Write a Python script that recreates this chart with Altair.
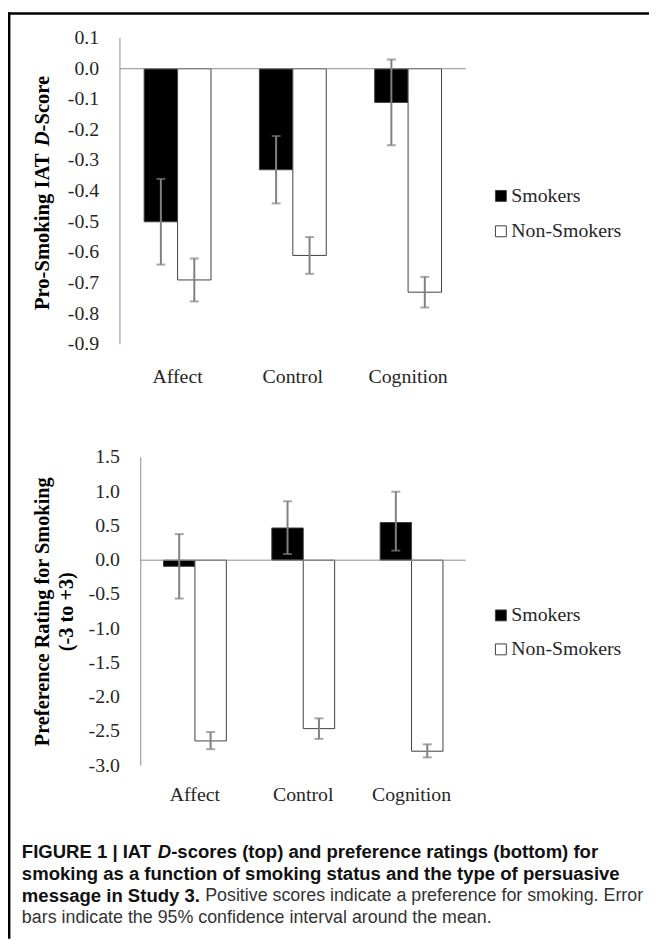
import altair as alt
import pandas as pd

# ---------------- data ----------------
categories = ["Affect", "Control", "Cognition"]
groups = ["Smokers", "Non-Smokers"]

iat_smokers = [-0.50, -0.33, -0.11]
iat_smokers_lo = [-0.64, -0.44, -0.25]
iat_smokers_hi = [-0.36, -0.22, 0.03]
iat_nonsmokers = [-0.69, -0.61, -0.73]
iat_nonsmokers_lo = [-0.76, -0.67, -0.78]
iat_nonsmokers_hi = [-0.62, -0.55, -0.68]

pref_smokers = [-0.09, 0.47, 0.55]
pref_smokers_lo = [-0.56, 0.09, 0.14]
pref_smokers_hi = [0.38, 0.86, 1.00]
pref_nonsmokers = [-2.64, -2.46, -2.79]
pref_nonsmokers_lo = [-2.76, -2.61, -2.88]
pref_nonsmokers_hi = [-2.51, -2.31, -2.69]

iat_ticks = [0.1, 0.0, -0.1, -0.2, -0.3, -0.4, -0.5, -0.6, -0.7, -0.8, -0.9]
pref_ticks = [1.5, 1.0, 0.5, 0.0, -0.5, -1.0, -1.5, -2.0, -2.5, -3.0]

top_title = ["Pro-Smoking IAT ", "D", "-Score"]
bottom_title = ["Preference Rating for Smoking", "(-3 to +3)"]
caption_line1 = ["FIGURE 1 | IAT ", "D", "-scores (top) and preference ratings (bottom) for"]
caption_line2 = "smoking as a function of smoking status and the type of persuasive"
caption_line3 = ["message in Study 3.", "Positive scores indicate a preference for smoking. Error"]
caption_line4 = "bars indicate the 95% confidence interval around the mean."

# ---------------- style ----------------
W, H = 647, 935
SERIF = "Liberation Serif"
SANS = "Liberation Sans"
GRAY = "#8c8c8c"
ERR = "#808080"
LBL = "#262626"
MINUS = "\u2212"
FILLS = ["#000000", "#ffffff"]

one = pd.DataFrame({"k": [0]})


def make_df(v1, lo1, hi1, v2, lo2, hi2):
    rows = []
    for i, c in enumerate(categories):
        rows.append(dict(cat=c, group=groups[0], value=v1[i], lo=lo1[i], hi=hi1[i]))
        rows.append(dict(cat=c, group=groups[1], value=v2[i], lo=lo2[i], hi=hi2[i]))
    return pd.DataFrame(rows)


def legend_entries(y_rows):
    out = []
    for g, fill, yy in zip(groups, FILLS, y_rows):
        out.append(alt.Chart(one).mark_square(
            size=121, fill=fill, stroke="#404040", strokeWidth=1, opacity=1
        ).encode(x=alt.value(497.5), y=alt.value(yy)))
        out.append(alt.Chart(one).mark_text(
            text=g, font=SERIF, fontSize=20, color=LBL, align="left", baseline="middle"
        ).encode(x=alt.value(508), y=alt.value(yy)))
    return out


def panel(df, xrange, ydomain, yrange, ticks, label_y, legend_rows):
    xs = alt.Scale(domain=categories, range=xrange, paddingInner=0.42, paddingOuter=0.21)
    X = alt.X("cat:N", scale=xs, axis=None)
    XO = alt.XOffset("group:N", scale=alt.Scale(domain=groups))
    ys = alt.Scale(domain=ydomain, range=yrange, nice=False, zero=False)
    base = alt.Chart(df)
    bars = base.mark_bar(stroke="#404040", strokeWidth=1).encode(
        x=X, xOffset=XO,
        y=alt.Y("value:Q", scale=ys, axis=None),
        y2=alt.datum(0),
        color=alt.Color("group:N", scale=alt.Scale(domain=groups, range=FILLS), legend=None),
    )
    # y axis line and tick labels, placed through the y scale
    axis_line = alt.Chart(one).mark_rule(color=GRAY, strokeWidth=1).encode(
        x=alt.value(xrange[0]),
        y=alt.Y(datum=ydomain[0], scale=ys, axis=None),
        y2=alt.datum(ydomain[1]),
    )
    tick_labels = alt.Chart(pd.DataFrame({"t": ticks})).transform_calculate(
        lab="replace(format(datum.t, '.1f'), '" + MINUS + "', '-')"
    ).mark_text(
        font=SERIF, fontSize=20, color=LBL, align="right", baseline="middle"
    ).encode(
        x=alt.value(xrange[0] - 21),
        y=alt.Y("t:Q", scale=ys, axis=None),
        text="lab:N",
    )
    zero = alt.Chart(pd.DataFrame({"z": [0]})).mark_rule(color=GRAY, strokeWidth=1).encode(
        y=alt.Y("z:Q", scale=ys, axis=None),
        x=alt.value(xrange[0]), x2=alt.value(xrange[1]),
    )
    err = base.mark_rule(color=ERR, strokeWidth=2).encode(
        x=X, xOffset=XO, y=alt.Y("lo:Q", scale=ys, axis=None), y2="hi:Q"
    )
    cap_lo = base.mark_tick(orient="horizontal", color=ERR, size=9, thickness=2).encode(
        x=X, xOffset=XO, y=alt.Y("lo:Q", scale=ys, axis=None)
    )
    cap_hi = base.mark_tick(orient="horizontal", color=ERR, size=9, thickness=2).encode(
        x=X, xOffset=XO, y=alt.Y("hi:Q", scale=ys, axis=None)
    )
    labels = alt.Chart(pd.DataFrame({"cat": categories})).mark_text(
        font=SERIF, fontSize=20, color=LBL, baseline="middle"
    ).encode(x=X, y=alt.value(label_y), text="cat:N")
    return alt.layer(bars, zero, axis_line, tick_labels, err, cap_lo, cap_hi, labels,
                     *legend_entries(legend_rows))


top_df = make_df(iat_smokers, iat_smokers_lo, iat_smokers_hi,
                 iat_nonsmokers, iat_nonsmokers_lo, iat_nonsmokers_hi)
bot_df = make_df(pref_smokers, pref_smokers_lo, pref_smokers_hi,
                 pref_nonsmokers, pref_nonsmokers_lo, pref_nonsmokers_hi)

top = panel(top_df, [113, 462], [-0.9, 0.1], [335, 26], iat_ticks, 368, [185.3, 221])
bottom = panel(bot_df, [134, 462], [-3.0, 1.5], [760.3, 449.3], pref_ticks, 790, [608.7, 643])


def txt(s, x, y, font, size, weight="normal", style="normal", color="#000",
        angle=0, align="left"):
    return alt.Chart(one).mark_text(
        text=s, font=font, fontSize=size, fontWeight=weight, fontStyle=style,
        color=color, angle=angle, align=align, baseline="middle",
    ).encode(x=alt.value(x), y=alt.value(y))


frame_top = alt.Chart(one).mark_rule(color="black", strokeWidth=2.5).encode(
    x=alt.value(0), x2=alt.value(W), y=alt.value(1.2))
frame_left = alt.Chart(one).mark_rule(color="black", strokeWidth=2.5).encode(
    x=alt.value(1.2), y=alt.value(0), y2=alt.value(H))

TS = 20.8
titles = [
    txt(top_title[0], 35, 300.5, SERIF, TS, "bold", angle=270),
    txt(top_title[1], 35, 135.2, SERIF, TS, "bold", "italic", angle=270),
    txt(top_title[2], 35, 120.2, SERIF, TS, "bold", angle=270),
    txt(bottom_title[0], 35, 605, SERIF, 20.5, "bold", angle=270, align="center"),
    txt(bottom_title[1], 60, 605, SERIF, 20.5, "bold", angle=270, align="center"),
]

CB = 18.7
CR = 18
BOLDC = "#111111"
REGC = "#333333"
caption = [
    txt(caption_line1[0], 14, 848, SANS, CB, "bold", color=BOLDC),
    txt(caption_line1[1], 151.2, 848, SANS, CB, "bold", "italic", color=BOLDC),
    txt(caption_line1[2], 164.7, 848, SANS, CB, "bold", color=BOLDC),
    txt(caption_line2, 14, 870, SANS, CB, "bold", color=BOLDC),
    txt(caption_line3[0], 14, 892, SANS, CB, "bold", color=BOLDC),
    txt(caption_line3[1], 199, 892, SANS, CR, "normal", color=REGC),
    txt(caption_line4, 14, 914, SANS, CR, "normal", color=REGC),
]

chart = alt.layer(top, bottom, frame_top, frame_left, *titles, *caption).resolve_scale(
    x="independent", y="independent", color="independent", xOffset="independent"
).properties(
    width=W, height=H, autosize=alt.AutoSizeParams(type="none"), padding=0,
    background="white",
).configure_view(strokeWidth=0)

chart.save("out.html", embed_options={"renderer": "svg", "actions": False})
